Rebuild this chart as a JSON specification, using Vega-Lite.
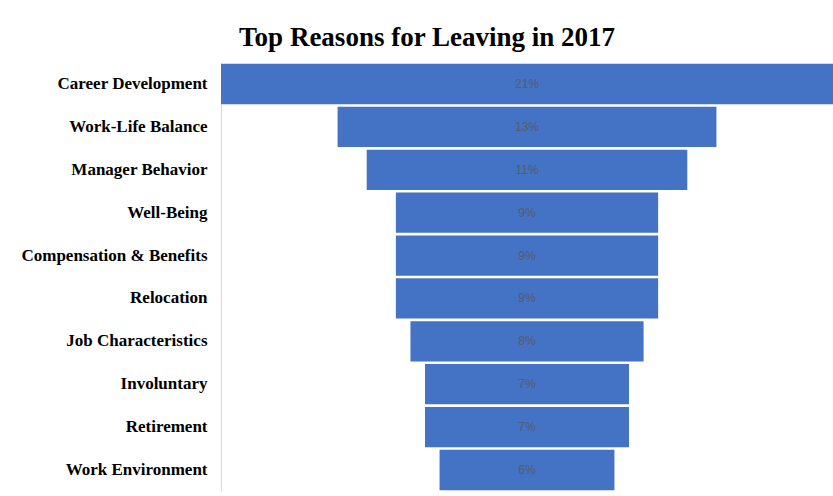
{
  "$schema": "https://vega.github.io/schema/vega-lite/v6.json",
  "width": 612,
  "height": 428,
  "autosize": {"type": "none"},
  "padding": {"left": 221, "top": 63, "right": 0, "bottom": 5},
  "background": "white",
  "title": {
    "text": "Top Reasons for Leaving in 2017",
    "font": "Liberation Serif",
    "fontSize": 27,
    "fontWeight": "bold",
    "color": "#000000",
    "anchor": "middle",
    "frame": "group",
    "dx": -100,
    "offset": 11
  },
  "data": {
    "values": [
      {"reason": "Career Development", "pct": 21, "label": "21%"},
      {"reason": "Work-Life Balance", "pct": 13, "label": "13%"},
      {"reason": "Manager Behavior", "pct": 11, "label": "11%"},
      {"reason": "Well-Being", "pct": 9, "label": "9%"},
      {"reason": "Compensation & Benefits", "pct": 9, "label": "9%"},
      {"reason": "Relocation", "pct": 9, "label": "9%"},
      {"reason": "Job Characteristics", "pct": 8, "label": "8%"},
      {"reason": "Involuntary", "pct": 7, "label": "7%"},
      {"reason": "Retirement", "pct": 7, "label": "7%"},
      {"reason": "Work Environment", "pct": 6, "label": "6%"}
    ]
  },
  "encoding": {
    "y": {
      "field": "reason",
      "type": "nominal",
      "sort": null,
      "scale": {"paddingInner": 0.06, "paddingOuter": 0.02},
      "axis": {
        "title": null,
        "ticks": false,
        "domain": true,
        "domainColor": "#d9d9d9",
        "labelFont": "Liberation Serif",
        "labelFontSize": 17,
        "labelFontWeight": "bold",
        "labelColor": "#000000",
        "labelPadding": 14,
        "labelLimit": 400
      }
    }
  },
  "layer": [
    {
      "mark": {"type": "bar", "color": "#4472C4"},
      "encoding": {
        "x": {
          "field": "pct",
          "type": "quantitative",
          "stack": "center",
          "scale": {"domain": [0, 21], "nice": false},
          "axis": null
        }
      }
    },
    {
      "mark": {"type": "text", "color": "#555c6b", "font": "Liberation Sans", "fontSize": 12},
      "encoding": {
        "x": {"datum": 10.5, "type": "quantitative"},
        "text": {"field": "label", "type": "nominal"}
      }
    }
  ],
  "config": {"view": {"stroke": null}}
}
